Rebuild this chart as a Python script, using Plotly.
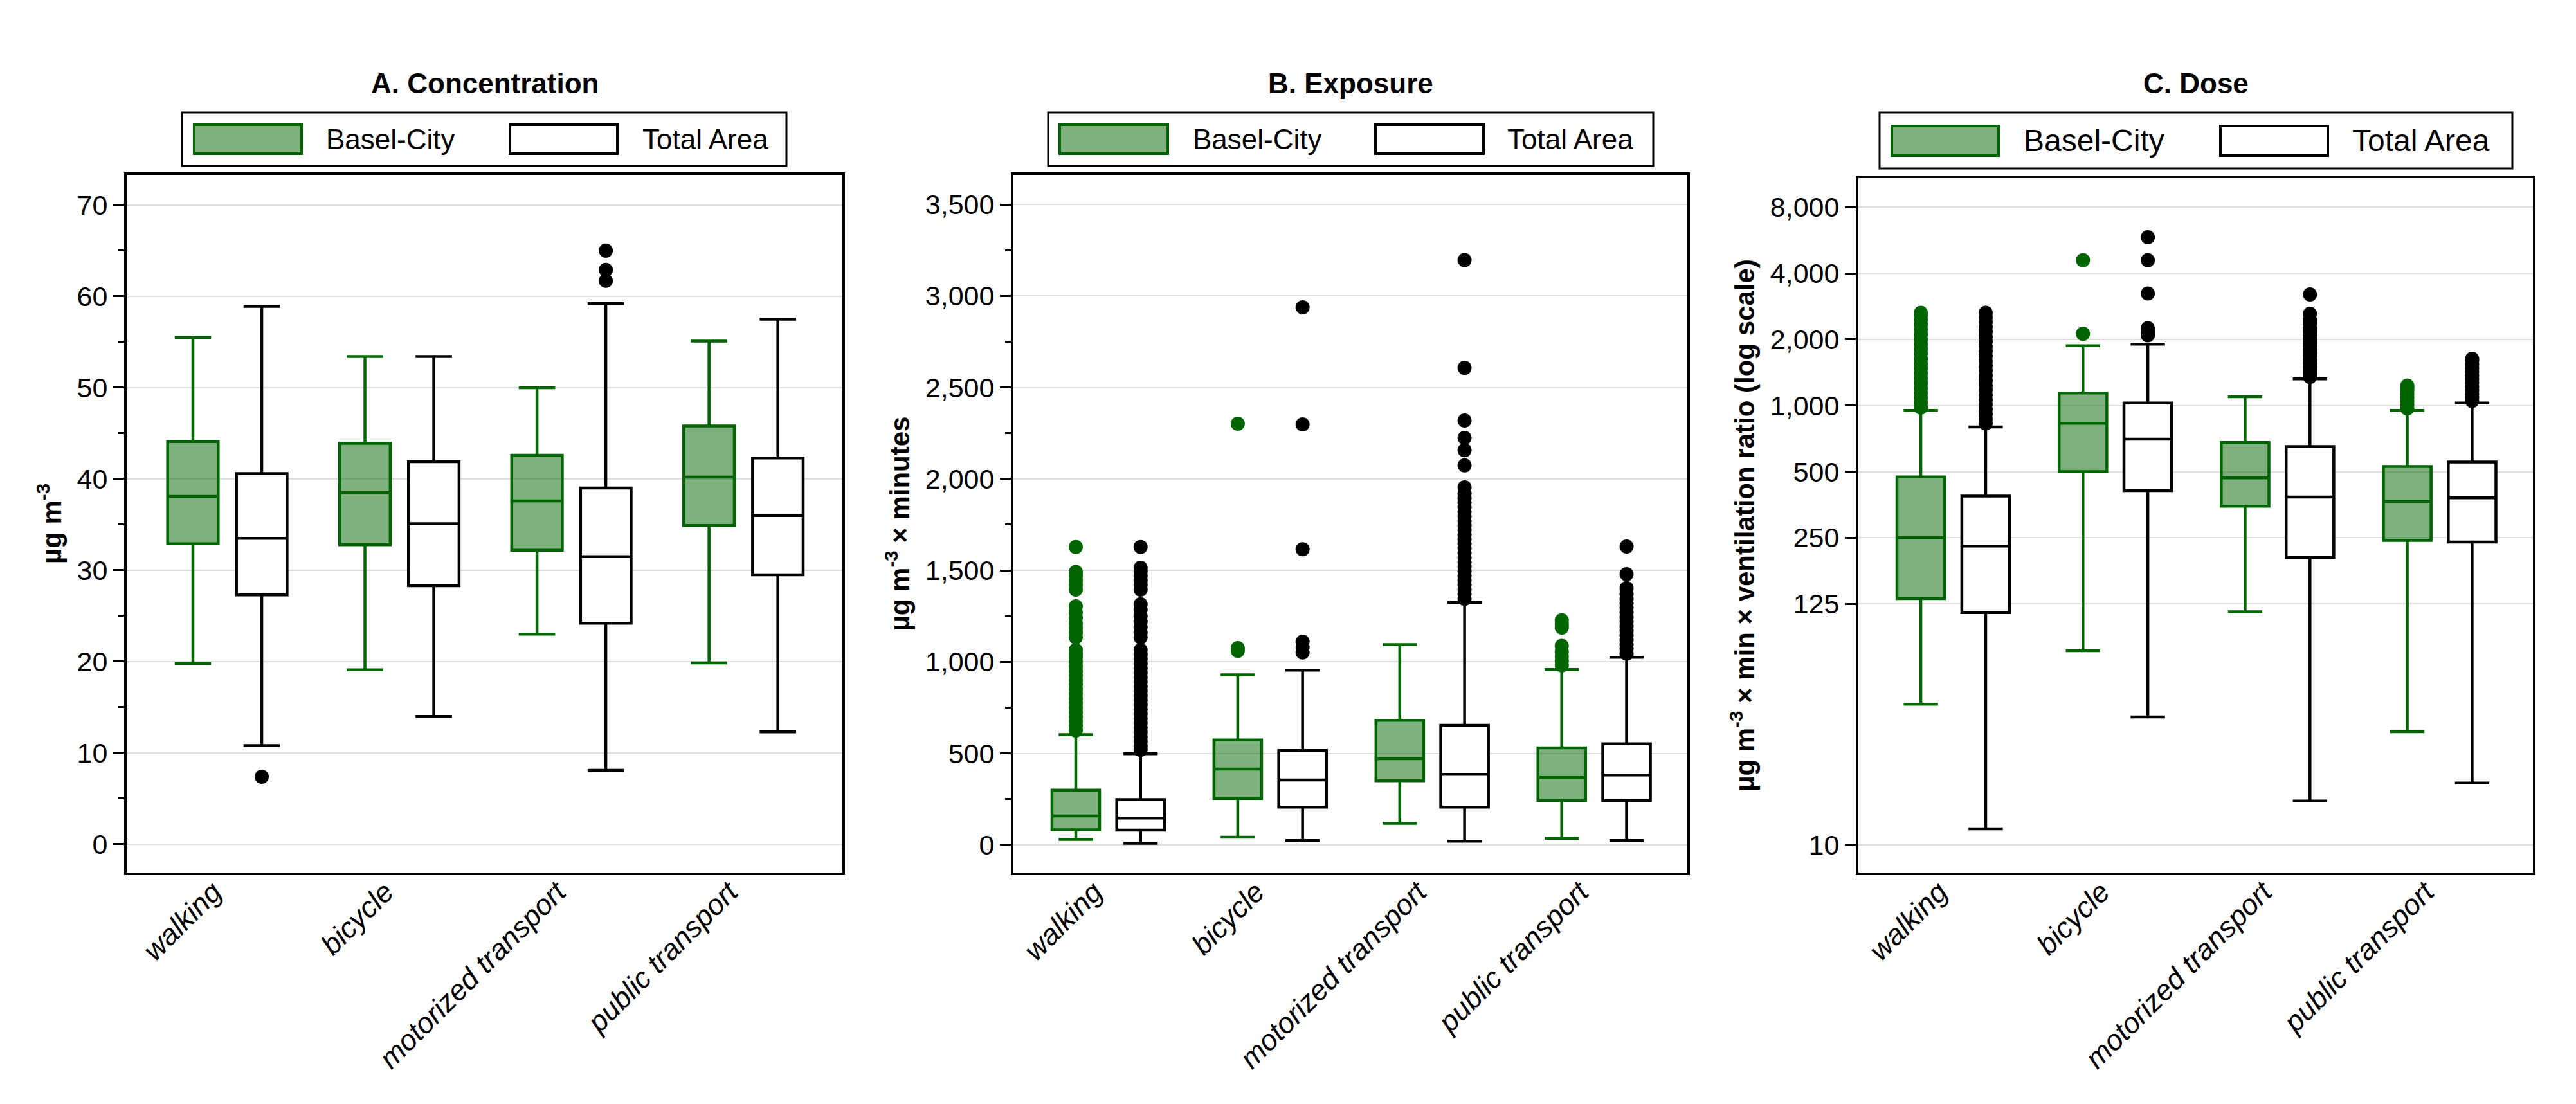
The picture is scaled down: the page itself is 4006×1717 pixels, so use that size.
import plotly.graph_objects as go

W, H = 4006, 1717

MODES = ["walking", "bicycle", "motorized transport", "public transport"]
GROUPS = ["Basel-City", "Total Area"]
PANEL_TITLES = ["A. Concentration", "B. Exposure", "C. Dose"]
Y_TITLES = [
    "µg m<sup>-3</sup>",
    "µg m<sup>-3</sup> × minutes",
    "µg m<sup>-3</sup> × min × ventilation ratio (log scale)",
]

# box statistics per mode: lower fence, q1, median, q3, upper fence
conc_basel_lf = [19.8, 19.1, 23.0, 19.85]
conc_basel_q1 = [32.9, 32.8, 32.2, 34.9]
conc_basel_med = [38.1, 38.5, 37.6, 40.2]
conc_basel_q3 = [44.1, 43.9, 42.6, 45.8]
conc_basel_uf = [55.5, 53.4, 50.0, 55.1]
conc_basel_out = [[], [], [], []]

conc_total_lf = [10.8, 14.0, 8.1, 12.3]
conc_total_q1 = [27.3, 28.3, 24.2, 29.5]
conc_total_med = [33.5, 35.1, 31.5, 36.0]
conc_total_q3 = [40.6, 41.9, 39.0, 42.3]
conc_total_uf = [58.9, 53.4, 59.2, 57.5]
conc_total_out = [[7.4], [], [61.7, 62.9, 65.0], []]

expo_basel_lf = [29, 41, 117, 35]
expo_basel_q1 = [82, 253, 350, 243]
expo_basel_med = [157, 414, 470, 367]
expo_basel_q3 = [299, 573, 680, 530]
expo_basel_uf = [602, 929, 1094, 958]
expo_basel_out = [
    [625, 650, 675, 700, 725, 750, 775, 800, 825, 850, 875, 900, 925, 950,
     975, 1000, 1025, 1045, 1064, 1134, 1160, 1185, 1210, 1240, 1270, 1303,
     1395, 1420, 1445, 1470, 1491, 1628],
    [1060, 1075, 2302],
    [],
    [981, 1005, 1030, 1055, 1087, 1187, 1205, 1227],
]

expo_total_lf = [8, 23, 19, 23]
expo_total_q1 = [80, 206, 206, 241]
expo_total_med = [146, 354, 385, 381]
expo_total_q3 = [247, 515, 653, 552]
expo_total_uf = [497, 954, 1325, 1025]
expo_total_out = [
    [519, 540, 565, 590, 615, 640, 665, 690, 715, 740, 765, 790, 815, 840,
     865, 890, 915, 940, 965, 990, 1015, 1040, 1064, 1134, 1160, 1190, 1220,
     1250, 1285, 1315, 1395, 1420, 1445, 1470, 1495, 1514, 1628],
    [1051, 1080, 1110, 1615, 2298, 2938],
    [1345, 1370, 1395, 1420, 1445, 1470, 1495, 1520, 1545, 1570, 1595, 1620,
     1645, 1670, 1695, 1720, 1745, 1770, 1795, 1820, 1845, 1870, 1895, 1920,
     1954, 2074, 2157, 2224, 2319, 2607, 3196],
    [1045, 1070, 1095, 1120, 1145, 1170, 1195, 1220, 1245, 1270, 1295, 1320,
     1345, 1370, 1403, 1479, 1630],
]

dose_basel_lf = [43.6, 76.4, 115, 32.7]
dose_basel_q1 = [132, 500, 348, 243]
dose_basel_med = [250, 830, 468, 366]
dose_basel_q3 = [473, 1141, 679, 528]
dose_basel_uf = [951, 1873, 1097, 951]
dose_basel_out = [
    [980, 1030, 1085, 1140, 1200, 1265, 1330, 1400, 1475, 1550, 1630, 1720,
     1810, 1900, 2000, 2110, 2220, 2340, 2460, 2580, 2646],
    [2123, 4589],
    [],
    [970, 1010, 1050, 1090, 1130, 1175, 1210, 1232],
]

dose_total_lf = [11.8, 38.2, 15.8, 19.1]
dose_total_q1 = [114, 410, 203, 239]
dose_total_med = [229, 703, 383, 380]
dose_total_q3 = [387, 1027, 651, 553]
dose_total_uf = [799, 1903, 1322, 1027]
dose_total_out = [
    [830, 870, 915, 960, 1010, 1060, 1115, 1175, 1235, 1300, 1370, 1440,
     1515, 1595, 1680, 1770, 1860, 1960, 2060, 2170, 2280, 2400, 2520, 2646],
    [2090, 2161, 2250, 3240, 4589, 5840],
    [1350, 1400, 1450, 1500, 1560, 1620, 1680, 1740, 1800, 1870, 1940, 2010,
     2090, 2170, 2250, 2366, 2450, 2617, 3204],
    [1050, 1090, 1130, 1175, 1220, 1270, 1320, 1370, 1425, 1480, 1540, 1600,
     1633],
]

DOSE_TICKS = [10, 125, 250, 500, 1000, 2000, 4000, 8000]

GREEN = "#006400"
GREEN_FILL = "rgba(0,100,0,0.5)"
FONT = "Liberation Sans, Arial, sans-serif"

panels = [
    (
        (conc_basel_lf, conc_basel_q1, conc_basel_med, conc_basel_q3, conc_basel_uf, conc_basel_out),
        (conc_total_lf, conc_total_q1, conc_total_med, conc_total_q3, conc_total_uf, conc_total_out),
    ),
    (
        (expo_basel_lf, expo_basel_q1, expo_basel_med, expo_basel_q3, expo_basel_uf, expo_basel_out),
        (expo_total_lf, expo_total_q1, expo_total_med, expo_total_q3, expo_total_uf, expo_total_out),
    ),
    (
        (dose_basel_lf, dose_basel_q1, dose_basel_med, dose_basel_q3, dose_basel_uf, dose_basel_out),
        (dose_total_lf, dose_total_q1, dose_total_med, dose_total_q3, dose_total_uf, dose_total_out),
    ),
]

# pixel layout of the three panels (left, right, top, bottom)
PLOT_BOX = [(189, 1302, 264, 1349), (1568, 2616, 264, 1349), (2882, 3931, 269, 1349)]
LEGEND_BOX = [
    dict(box=(275, 167, 1215, 250), sw1=(294, 461), t1=497, sw2=(785, 952), t2=989, sy=(186, 231), size=44),
    dict(box=(1622, 167, 2563, 250), sw1=(1640, 1808), t1=1845, sw2=(2131, 2299), t2=2334, sy=(186, 231), size=44),
    dict(box=(2915, 167, 3899, 254), sw1=(2934, 3100), t1=3137, sw2=(3445, 3612), t2=3648, sy=(188, 234), size=48),
]


def px(x):
    return x / W


def py(y):
    return 1 - y / H


fig = go.Figure()
styles = [
    dict(line=GREEN, fill=GREEN_FILL),
    dict(line="black", fill="white"),
]

for p, series in enumerate(panels):
    suffix = "" if p == 0 else str(p + 1)
    for g, (lf, q1, med, q3, uf, out) in enumerate(series):
        st = styles[g]
        has_points = any(len(v) for v in out)
        fig.add_trace(
            go.Box(
                x=MODES,
                y=out if has_points else None,
                lowerfence=lf,
                q1=q1,
                median=med,
                q3=q3,
                upperfence=uf,
                name=GROUPS[g],
                orientation="v",
                boxpoints="outliers" if has_points else False,
                jitter=0,
                pointpos=0,
                whiskerwidth=0.72,
                line=dict(color=st["line"], width=4.5),
                fillcolor=st["fill"],
                marker=dict(color=st["line"], size=22),
                alignmentgroup="panel%d" % p,
                offsetgroup=GROUPS[g],
                showlegend=False,
                xaxis="x" + suffix,
                yaxis="y" + suffix,
            )
        )

layout = dict(
    width=W,
    height=H,
    margin=dict(l=0, r=0, t=0, b=0),
    paper_bgcolor="white",
    plot_bgcolor="white",
    boxmode="group",
    boxgap=0.2,
    boxgroupgap=0.265,
    showlegend=False,
    font=dict(family=FONT, size=43, color="black"),
)

shapes = []
annotations = []
for p in range(3):
    suffix = "" if p == 0 else str(p + 1)
    left, right, top, bottom = PLOT_BOX[p]
    axis_common = dict(
        showline=True,
        linecolor="black",
        linewidth=4,
        mirror=True,
        ticks="outside",
        ticklen=17,
        tickwidth=3,
        tickcolor="black",
    )
    layout["xaxis" + suffix] = dict(
        axis_common,
        domain=[px(left), px(right)],
        anchor="y" + suffix,
        type="category",
        categoryorder="array",
        categoryarray=MODES,
        range=[-0.585, 3.575],
        ticks="",
        tickangle=-45,
        ticklabelshift=-22,
        ticklabelstandoff=-18,
        tickfont=dict(family=FONT, size=45, style="italic"),
        showgrid=False,
    )
    yax = dict(
        axis_common,
        domain=[py(bottom), py(top)],
        anchor="x" + suffix,
        showgrid=True,
        gridcolor="#dedede",
        gridwidth=2,
        zeroline=False,
        tickfont=dict(family=FONT, size=43),
        tickformat=",",
        title=dict(
            text="<b>" + Y_TITLES[p] + "</b>",
            font=dict(family=FONT, size=42),
            standoff=12,
        ),
    )
    if p == 0:
        yax.update(range=[-3.1, 73.3], dtick=10,
                   minor=dict(dtick=5, ticks="outside", ticklen=9, tickwidth=3, tickcolor="black", showgrid=False))
    elif p == 1:
        yax.update(range=[-152, 3662], dtick=500,
                   minor=dict(dtick=250, ticks="outside", ticklen=9, tickwidth=3, tickcolor="black", showgrid=False))
    else:
        yax.update(type="log", range=[0.873, 4.036], tickmode="array",
                   tickvals=DOSE_TICKS, ticktext=[f"{v:,}" for v in DOSE_TICKS])
    layout["yaxis" + suffix] = yax

    # panel title
    annotations.append(dict(
        x=px((left + right) / 2), y=py(121), xref="paper", yref="paper",
        text="<b>" + PANEL_TITLES[p] + "</b>", showarrow=False,
        font=dict(family=FONT, size=44), xanchor="center", yanchor="middle",
    ))

    # legend drawn as a framed key above each panel
    lg = LEGEND_BOX[p]
    x0, y0, x1, y1 = lg["box"]
    shapes.append(dict(type="rect", xref="paper", yref="paper",
                       x0=px(x0), x1=px(x1), y0=py(y1), y1=py(y0),
                       line=dict(color="black", width=3), fillcolor="white"))
    sy0, sy1 = lg["sy"]
    for g, (sw, tx) in enumerate([(lg["sw1"], lg["t1"]), (lg["sw2"], lg["t2"])]):
        st = styles[g]
        shapes.append(dict(type="rect", xref="paper", yref="paper",
                           x0=px(sw[0]), x1=px(sw[1]), y0=py(sy1), y1=py(sy0),
                           line=dict(color=st["line"], width=4), fillcolor=st["fill"]))
        annotations.append(dict(
            x=px(tx), y=py((sy0 + sy1) / 2), xref="paper", yref="paper",
            text=GROUPS[g], showarrow=False, xanchor="left", yanchor="middle",
            font=dict(family=FONT, size=lg["size"]),
        ))

layout["shapes"] = shapes
layout["annotations"] = annotations
fig.update_layout(layout)

fig.write_html("out.html")
